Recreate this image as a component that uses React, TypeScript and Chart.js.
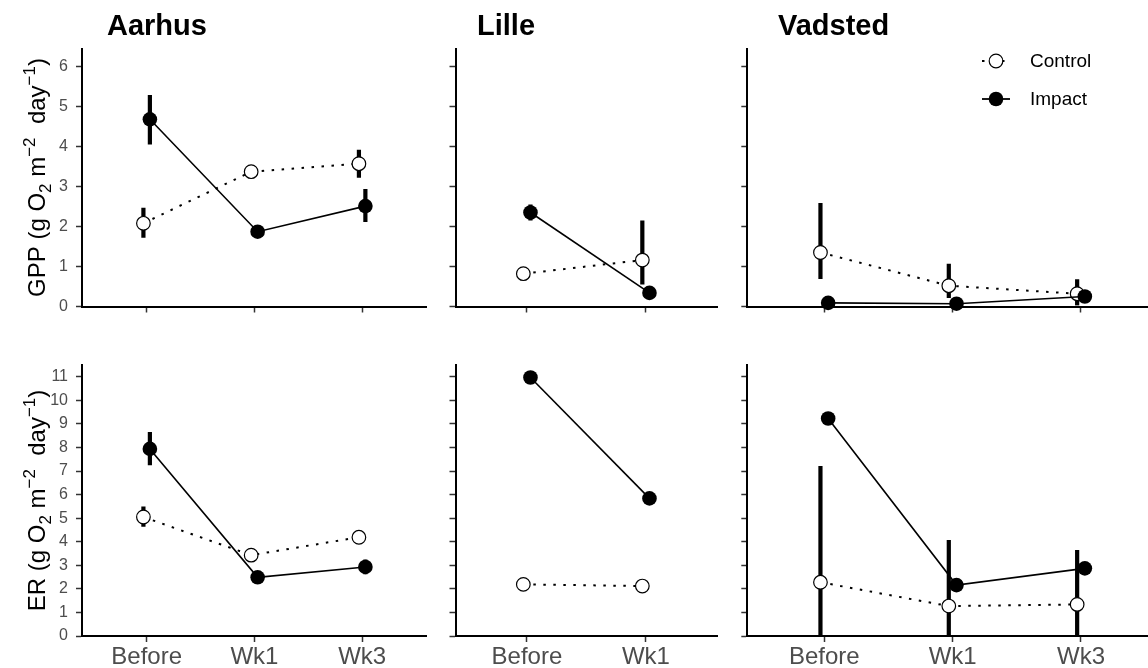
import React, { useEffect, useRef } from "react";
import { Chart, registerables } from "chart.js";

Chart.register(...registerables);

// ---------------- data ----------------
const SITES = ["Aarhus", "Lille", "Vadsted"];
const PERIODS_BY_SITE = [
  ["Before", "Wk1", "Wk3"],
  ["Before", "Wk1"],
  ["Before", "Wk1", "Wk3"],
];
const GROUPS = ["Control", "Impact"];
const GPP_TICKS = [0, 1, 2, 3, 4, 5, 6];
const ER_TICKS = [0, 1, 2, 3, 4, 5, 6, 7, 8, 9, 10, 11];
const GPP_MAX = 6.45;
const ER_MAX = 11.5;

// GPP (g O2 m-2 day-1), per site
const gppControlMean = [[2.08, 3.37, 3.57], [0.82, 1.16], [1.35, 0.52, 0.32]];
const gppControlLow = [[1.72, 3.27, 3.22], [0.74, 0.55], [0.69, 0.21, 0.02]];
const gppControlHigh = [[2.47, 3.47, 3.92], [0.9, 2.15], [2.59, 1.07, 0.68]];
const gppImpactMean = [[4.68, 1.87, 2.51], [2.35, 0.34], [0.09, 0.07, 0.25]];
const gppImpactLow = [[4.05, 1.77, 2.11], [2.15, 0.28], [0.05, 0.04, 0.17]];
const gppImpactHigh = [[5.29, 1.97, 2.94], [2.55, 0.4], [0.13, 0.1, 0.33]];

// ER (g O2 m-2 day-1), per site
const erControlMean = [[5.05, 3.43, 4.19], [2.19, 2.12], [2.28, 1.27, 1.34]];
const erControlLow = [[4.64, 3.3, 4.05], [2.05, 2.0], [-2.65, -1.53, -0.97]];
const erControlHigh = [[5.5, 3.56, 4.33], [2.33, 2.24], [7.21, 4.07, 3.65]];
const erImpactMean = [[7.94, 2.49, 2.93], [10.97, 5.84], [9.23, 2.16, 2.87]];
const erImpactLow = [[7.25, 2.35, 2.62], [10.8, 5.7], [9.1, 2.0, 2.7]];
const erImpactHigh = [[8.66, 2.63, 3.25], [11.1, 5.98], [9.35, 2.3, 3.05]];

// ---------------- layout / style ----------------
const FONT = '"Liberation Sans", Arial, Helvetica, sans-serif';
const CANVAS_W = 1170;
const CANVAS_H = 700;
const YW = 60;
const XH = 40;
const DODGE = 0.03;
const DOT_DASH = [2.5, 7.5];
const PANEL_LEFT = [82, 455.5, 747.3];
const PANEL_RIGHT = [426.8, 717.3, 1158];
const ROW_TOP = [48.5, 365];
const ROW_BOTTOM = [306.5, 636];
const TITLE_X = [107, 477, 778];
const TITLE_BASELINE = 35;
const YTITLE_BASELINE_X = 45;

type Part = { t: string; s: number };
const GPP_TITLE: Part[] = [
  { t: "GPP (g O", s: 0 },
  { t: "2", s: -1 },
  { t: " m", s: 0 },
  { t: "\u22122", s: 1 },
  { t: "  day", s: 0 },
  { t: "\u22121", s: 1 },
  { t: ")", s: 0 },
];
const ER_TITLE: Part[] = [
  { t: "ER (g O", s: 0 },
  { t: "2", s: -1 },
  { t: " m", s: 0 },
  { t: "\u22122", s: 1 },
  { t: "  day", s: 0 },
  { t: "\u22121", s: 1 },
  { t: ")", s: 0 },
];

function drawVerticalRich(ctx: CanvasRenderingContext2D, parts: Part[], bx: number, cy: number) {
  const mainFont = `24px ${FONT}`;
  const smallFont = `17px ${FONT}`;
  let total = 0;
  const widths = parts.map((p) => {
    ctx.font = p.s === 0 ? mainFont : smallFont;
    const w = ctx.measureText(p.t).width;
    total += w;
    return w;
  });
  ctx.save();
  ctx.translate(bx, cy);
  ctx.rotate(-Math.PI / 2);
  ctx.fillStyle = "#000";
  ctx.textBaseline = "alphabetic";
  ctx.textAlign = "left";
  let x = -total / 2;
  parts.forEach((p, i) => {
    ctx.font = p.s === 0 ? mainFont : smallFont;
    const dy = p.s === 0 ? 0 : p.s > 0 ? -10 : 6;
    ctx.fillText(p.t, x, dy);
    x += widths[i];
  });
  ctx.restore();
}

function makeErrorPlugin(id: string, bars: { x: number; lo: number; hi: number }[]) {
  return {
    id,
    beforeDatasetsDraw(chart: any) {
      const { ctx, chartArea, scales } = chart;
      ctx.save();
      ctx.beginPath();
      ctx.rect(chartArea.left, chartArea.top, chartArea.right - chartArea.left, chartArea.bottom - chartArea.top - 1);
      ctx.clip();
      ctx.strokeStyle = "#000";
      ctx.lineWidth = 4.2;
      ctx.lineCap = "butt";
      bars.forEach((b) => {
        const px = scales.x.getPixelForValue(b.x);
        ctx.beginPath();
        ctx.moveTo(px, scales.y.getPixelForValue(b.lo));
        ctx.lineTo(px, scales.y.getPixelForValue(b.hi));
        ctx.stroke();
      });
      ctx.restore();
    },
  };
}

function makeTextPlugin(id: string, row: number, col: number) {
  return {
    id,
    afterDraw(chart: any) {
      const ctx: CanvasRenderingContext2D = chart.ctx;
      const area = chart.chartArea;
      ctx.save();
      if (row === 0) {
        ctx.font = `bold 29px ${FONT}`;
        ctx.fillStyle = "#000";
        ctx.textBaseline = "alphabetic";
        ctx.textAlign = "left";
        ctx.fillText(SITES[col], TITLE_X[col], TITLE_BASELINE);
      }
      if (col === 0) {
        drawVerticalRich(ctx, row === 0 ? GPP_TITLE : ER_TITLE, YTITLE_BASELINE_X, (area.top + area.bottom) / 2);
      }
      if (row === 0 && col === 2) {
        const kx = 996;
        const ys = [61, 99];
        GROUPS.forEach((g, i) => {
          const y = ys[i];
          ctx.strokeStyle = "#000";
          ctx.lineWidth = g === "Control" ? 2 : 1.8;
          ctx.setLineDash(g === "Control" ? DOT_DASH : []);
          ctx.beginPath();
          ctx.moveTo(kx - 14, y);
          ctx.lineTo(kx + 14, y);
          ctx.stroke();
          ctx.setLineDash([]);
          ctx.beginPath();
          ctx.arc(kx, y, g === "Control" ? 6.8 : 7.3, 0, Math.PI * 2);
          ctx.fillStyle = g === "Control" ? "#fff" : "#000";
          ctx.fill();
          if (g === "Control") {
            ctx.lineWidth = 1.2;
            ctx.stroke();
          }
          ctx.fillStyle = "#000";
          ctx.font = `19px ${FONT}`;
          ctx.textBaseline = "middle";
          ctx.textAlign = "left";
          ctx.fillText(g, 1030, y + 1);
        });
      }
      ctx.restore();
    },
  };
}

function buildConfig(row: number, col: number): any {
  const cats = PERIODS_BY_SITE[col];
  const isGpp = row === 0;
  const cMean = (isGpp ? gppControlMean : erControlMean)[col];
  const cLow = (isGpp ? gppControlLow : erControlLow)[col];
  const cHigh = (isGpp ? gppControlHigh : erControlHigh)[col];
  const iMean = (isGpp ? gppImpactMean : erImpactMean)[col];
  const iLow = (isGpp ? gppImpactLow : erImpactLow)[col];
  const iHigh = (isGpp ? gppImpactHigh : erImpactHigh)[col];
  const yTicks = isGpp ? GPP_TICKS : ER_TICKS;
  const yMax = isGpp ? GPP_MAX : ER_MAX;
  const controlX = cats.map((_, i) => i + 1 - DODGE);
  const impactX = cats.map((_, i) => i + 1 + DODGE);

  const bars = [
    ...controlX.map((x, i) => ({ x, lo: cLow[i], hi: cHigh[i] })),
    ...impactX.map((x, i) => ({ x, lo: iLow[i], hi: iHigh[i] })),
  ];

  const gridOpts = {
    display: true,
    drawOnChartArea: false,
    drawTicks: true,
    tickLength: 6,
    tickColor: "#333",
    tickWidth: 1.5,
  };
  const borderOpts = { display: true, color: "#000", width: 2 };
  const zeroPad = (s: any) => {
    s.paddingTop = 0;
    s.paddingBottom = 0;
    s.paddingLeft = 0;
    s.paddingRight = 0;
  };

  return {
    type: "line",
    data: {
      datasets: [
        {
          label: "Impact",
          data: impactX.map((x, i) => ({ x, y: iMean[i] })),
          borderColor: "#000",
          borderWidth: 1.6,
          tension: 0,
          pointRadius: 7.3,
          pointHoverRadius: 7.3,
          pointBackgroundColor: "#000",
          pointBorderColor: "#000",
          pointBorderWidth: 0,
          clip: false,
        },
        {
          label: "Control",
          data: controlX.map((x, i) => ({ x, y: cMean[i] })),
          borderColor: "#000",
          borderWidth: 2,
          borderDash: DOT_DASH,
          tension: 0,
          pointRadius: 6.8,
          pointHoverRadius: 6.8,
          pointBackgroundColor: "#fff",
          pointBorderColor: "#000",
          pointBorderWidth: 1.2,
          clip: false,
        },
      ],
    },
    options: {
      animation: false,
      responsive: false,
      events: [],
      layout: {
        padding: {
          left: PANEL_LEFT[col] - YW,
          right: CANVAS_W - PANEL_RIGHT[col],
          top: ROW_TOP[row],
          bottom: CANVAS_H - ROW_BOTTOM[row] - XH,
        },
      },
      plugins: {
        legend: { display: false },
        tooltip: { enabled: false },
        title: { display: false },
      },
      scales: {
        x: {
          type: "linear",
          min: 0.4,
          max: cats.length + 0.6,
          afterBuildTicks: (s: any) => {
            s.ticks = cats.map((_, i) => ({ value: i + 1 }));
          },
          afterFit: (s: any) => {
            s.height = XH;
            zeroPad(s);
          },
          ticks: {
            autoSkip: false,
            maxRotation: 0,
            minRotation: 0,
            padding: 1,
            color: "#4D4D4D",
            font: { family: FONT, size: 24 },
            callback: (v: number) => (row === 1 ? cats[Math.round(v) - 1] : ""),
          },
          grid: gridOpts,
          border: borderOpts,
        },
        y: {
          type: "linear",
          min: 0,
          max: yMax,
          afterBuildTicks: (s: any) => {
            s.ticks = yTicks.map((v) => ({ value: v }));
          },
          afterFit: (s: any) => {
            s.width = YW;
            zeroPad(s);
          },
          ticks: {
            autoSkip: false,
            padding: 8,
            color: "#4D4D4D",
            font: { family: FONT, size: 16 },
            callback: (v: number) => (col === 0 ? String(v) : ""),
          },
          grid: gridOpts,
          border: borderOpts,
        },
      },
    },
    plugins: [makeErrorPlugin(`err${row}${col}`, bars), makeTextPlugin(`txt${row}${col}`, row, col)],
  };
}

const PANELS = [0, 1].flatMap((row) => [0, 1, 2].map((col) => ({ row, col })));

function Panel({ row, col }: { row: number; col: number }) {
  const ref = useRef<HTMLCanvasElement | null>(null);
  useEffect(() => {
    if (!ref.current) return;
    const chart = new Chart(ref.current, buildConfig(row, col));
    return () => chart.destroy();
  }, [row, col]);
  return (
    <canvas
      ref={ref}
      width={CANVAS_W}
      height={CANVAS_H}
      style={{ position: "absolute", left: 0, top: 0, width: CANVAS_W, height: CANVAS_H }}
    />
  );
}

export default function App() {
  return (
    <div
      style={{
        position: "fixed",
        left: 0,
        top: 0,
        width: 1148,
        height: 668,
        overflow: "hidden",
        background: "#fff",
      }}
    >
      {PANELS.map((p) => (
        <Panel key={`${p.row}-${p.col}`} row={p.row} col={p.col} />
      ))}
    </div>
  );
}
